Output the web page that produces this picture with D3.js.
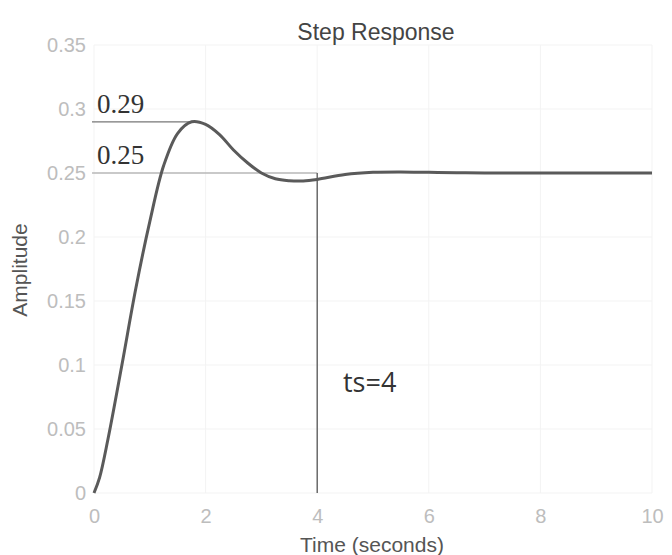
<!DOCTYPE html>
<html>
<head>
<meta charset="utf-8">
<script src="https://cdn.jsdelivr.net/npm/d3@7"></script>
<style>
  body { margin: 0; background: #fff; }
  svg { display: block; }
</style>
</head>
<body>
<script>
// step response samples
var time = [0, 0.1, 0.25, 0.5, 0.75, 1, 1.25, 1.5, 1.75, 2, 2.25, 2.5, 2.75, 3, 3.25, 3.5, 3.75, 4, 4.5, 5, 5.5, 6, 6.5, 7, 8, 9, 10];
var amplitude = [0, 0.012, 0.042, 0.100, 0.160, 0.212, 0.256, 0.281, 0.290, 0.288, 0.280, 0.268, 0.258, 0.250, 0.2455, 0.244, 0.2438, 0.245, 0.2488, 0.2505, 0.2508, 0.2505, 0.2502, 0.25, 0.25, 0.25, 0.25];
var xTicks = [0, 2, 4, 6, 8, 10];
var yTicks = [0, 0.05, 0.1, 0.15, 0.2, 0.25, 0.3, 0.35];
var peakValue = 0.29, peakTime = 1.75;
var finalValue = 0.25;
var settleTime = 4;

var width = 672, height = 555;
var margin = {left: 94, right: 20, top: 45, bottom: 62};

var svg = d3.select("body").append("svg").attr("width", width).attr("height", height);

var x = d3.scaleLinear().domain([0, 10]).range([margin.left, width - margin.right]);
var y = d3.scaleLinear().domain([0, 0.35]).range([height - margin.bottom, margin.top]);

var sans = "Liberation Sans, Arial, sans-serif";

// faint grid
svg.append("g")
    .selectAll("line")
    .data(xTicks)
    .enter().append("line")
    .attr("x1", d => x(d)).attr("x2", d => x(d))
    .attr("y1", y(0)).attr("y2", y(0.35))
    .attr("stroke", "#f3f3f3");
svg.append("g")
    .selectAll("line")
    .data(yTicks)
    .enter().append("line")
    .attr("x1", x(0)).attr("x2", x(10))
    .attr("y1", d => y(d)).attr("y2", d => y(d))
    .attr("stroke", "#f3f3f3");

// axes (labels only)
var xAxis = svg.append("g")
    .attr("transform", "translate(0," + (y(0) + 13) + ")")
    .call(d3.axisBottom(x).tickValues(xTicks).tickSize(0).tickFormat(d3.format("d")));
var yAxis = svg.append("g")
    .attr("transform", "translate(" + (x(0) - 5) + ",0)")
    .call(d3.axisLeft(y).tickValues(yTicks).tickSize(0).tickFormat(d => d === 0 ? "0" : String(+d.toFixed(2))));
[xAxis, yAxis].forEach(function(a) {
    a.select(".domain").remove();
    a.selectAll("text")
        .attr("fill", "#bdbdbd")
        .style("font-family", sans)
        .style("font-size", "20px");
});
xAxis.selectAll("text").attr("dy", "0.71em");

// title and axis labels
svg.append("text")
    .attr("x", 376).attr("y", 40)
    .attr("text-anchor", "middle")
    .attr("fill", "#444")
    .style("font-family", sans)
    .style("font-size", "23px")
    .text("Step Response");
svg.append("text")
    .attr("x", 372).attr("y", 552)
    .attr("text-anchor", "middle")
    .attr("fill", "#555")
    .style("font-family", sans)
    .style("font-size", "21px")
    .text("Time (seconds)");
svg.append("text")
    .attr("transform", "translate(27,270) rotate(-90)")
    .attr("text-anchor", "middle")
    .attr("fill", "#555")
    .style("font-family", sans)
    .style("font-size", "21px")
    .text("Amplitude");

// annotation lines
svg.append("line")
    .attr("x1", x(0) - 2).attr("x2", x(peakTime))
    .attr("y1", y(peakValue)).attr("y2", y(peakValue))
    .attr("stroke", "#777").attr("stroke-width", 1.2);
svg.append("line")
    .attr("x1", x(0) - 2).attr("x2", x(settleTime))
    .attr("y1", y(finalValue)).attr("y2", y(finalValue))
    .attr("stroke", "#999").attr("stroke-width", 1.2);
svg.append("line")
    .attr("x1", x(settleTime)).attr("x2", x(settleTime))
    .attr("y1", y(finalValue)).attr("y2", y(0))
    .attr("stroke", "#555").attr("stroke-width", 1.3);

// response curve
var line = d3.line()
    .x((d, i) => x(time[i]))
    .y(d => y(d))
    .curve(d3.curveCatmullRom.alpha(0.5));
svg.append("path")
    .datum(amplitude)
    .attr("d", line)
    .attr("fill", "none")
    .attr("stroke", "#5a5a5a")
    .attr("stroke-width", 3);

// annotation labels
svg.append("text")
    .attr("x", 97).attr("y", 113)
    .attr("fill", "#333")
    .style("font-family", "Liberation Serif, Times New Roman, serif")
    .style("font-size", "27px")
    .text(peakValue);
svg.append("text")
    .attr("x", 97).attr("y", 164)
    .attr("fill", "#333")
    .style("font-family", "Liberation Serif, Times New Roman, serif")
    .style("font-size", "27px")
    .text(finalValue);
svg.append("text")
    .attr("x", 343).attr("y", 392)
    .attr("fill", "#333")
    .style("font-family", "Open Sans, Lato, sans-serif")
    .style("font-size", "27px")
    .text("ts=" + settleTime);
</script>
</body>
</html>
